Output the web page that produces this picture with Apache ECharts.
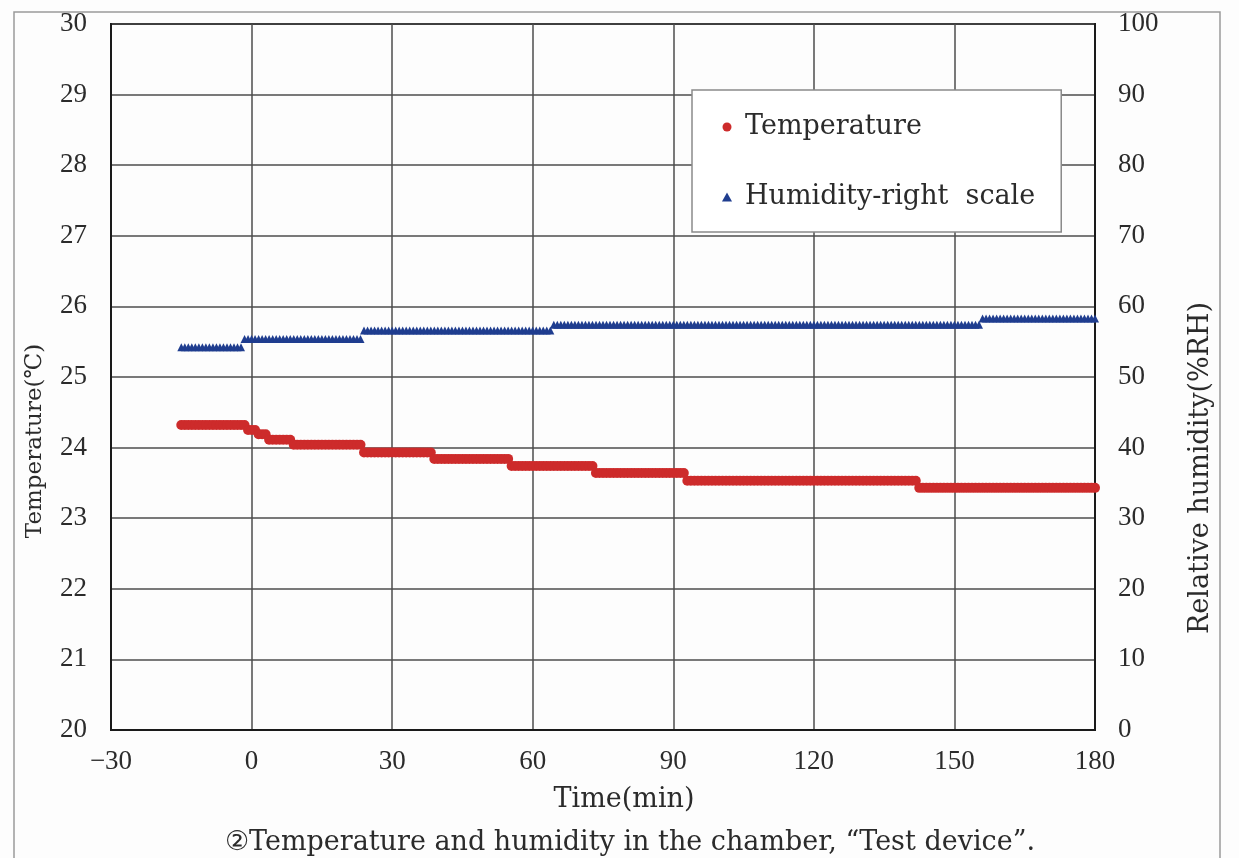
<!DOCTYPE html>
<html>
<head>
<meta charset="utf-8">
<script src="https://cdn.jsdelivr.net/npm/echarts@6/dist/echarts.min.js"></script>
<style>
html,body{margin:0;padding:0;background:#fdfdfd;}
#chart{width:1239px;height:858px;}
</style>
</head>
<body>
<div id="chart"></div>
<script>
// ---- data ----
const xTicks = [-30, 0, 30, 60, 90, 120, 150, 180];
const sampleStart = -15, sampleEnd = 180, sampleStep = 0.75; // logging window (min), 45-s logging
// Temperature: time (min) at which each reading level starts, and the level (°C)
const tempRunStart = [-15, -1, 1.5, 3.5, 8.5, 23.5, 38.5, 55.5, 73.5, 93, 142.5];
const tempRunValue = [24.32, 24.25, 24.19, 24.11, 24.04, 23.93, 23.84, 23.74, 23.64, 23.53, 23.43];
// Humidity (%RH, right scale)
const humRunStart = [-15, -2, 24, 64, 156];
const humRunValue = [54.2, 55.4, 56.6, 57.4, 58.3];

function expandRuns(starts, values) {
  const out = [];
  const n = Math.round((sampleEnd - sampleStart) / sampleStep);
  for (let k = 0; k <= n; k++) {
    const t = sampleStart + k * sampleStep;
    let v = values[0];
    for (let i = 0; i < starts.length; i++) if (t >= starts[i]) v = values[i];
    out.push([t, v]);
  }
  return out;
}
const tempData = expandRuns(tempRunStart, tempRunValue);
const humData = expandRuns(humRunStart, humRunValue);

const serif = 'DejaVu Serif';
const numFont = 'Liberation Serif';
const txt = '#2b2b2b';

const chart = echarts.init(document.getElementById('chart'), null, {renderer: 'canvas'});
chart.setOption({
  animation: false,
  backgroundColor: '#fdfdfd',
  grid: {
    left: 111, right: 144, top: 24, bottom: 128,
    show: true, borderColor: '#1a1a1a', borderWidth: 2,
    containLabel: false, outerBoundsMode: 'none'
  },
  title: {
    text: '②Temperature and humidity in the chamber, “Test device”.',
    left: 220, top: 824,
    textStyle: {fontFamily: serif, fontSize: 27, fontWeight: 'normal', color: txt}
  },
  legend: {
    orient: 'vertical', left: 692, top: 90,
    padding: [22, 26, 20, 30],
    itemGap: 40, itemWidth: 10, itemHeight: 9,
    backgroundColor: '#ffffff', borderColor: '#8a8a8a', borderWidth: 1.5, borderRadius: 0,
    textStyle: {fontFamily: serif, fontSize: 27, color: txt, lineHeight: 30, padding: [0, 0, 0, 8]},
    data: ['Temperature', 'Humidity-right  scale']
  },
  xAxis: {
    type: 'value', min: -30, max: 180, interval: 30,
    name: 'Time(min)', nameLocation: 'middle', nameGap: 56,
    nameTextStyle: {fontFamily: serif, fontSize: 27, color: txt, padding: [0, 0, 0, 42]},
    axisLine: {show: true, onZero: false, lineStyle: {color: '#1a1a1a', width: 2}},
    axisTick: {show: false},
    axisLabel: {
      margin: 18, fontFamily: numFont, fontSize: 27, color: txt,
      formatter: v => xTicks.includes(v) ? String(v).replace('-', '−') : ''
    },
    splitLine: {show: true, lineStyle: {color: '#4d4d4d', width: 1.5}}
  },
  yAxis: [
    {
      type: 'value', min: 20, max: 30, interval: 1, position: 'left',
      name: 'Temperature(℃)', nameLocation: 'middle', nameGap: 64,
      nameTextStyle: {fontFamily: serif, fontSize: 23, color: txt, padding: [0, 128, 0, 0]},
      axisLine: {show: true, onZero: false, lineStyle: {color: '#1a1a1a', width: 2}},
      axisTick: {show: false},
      axisLabel: {margin: 24, fontFamily: numFont, fontSize: 27, color: txt},
      splitLine: {show: true, lineStyle: {color: '#4d4d4d', width: 1.5}}
    },
    {
      type: 'value', min: 0, max: 100, interval: 10, position: 'right',
      name: 'Relative humidity(%RH)', nameLocation: 'middle', nameGap: 92,
      nameTextStyle: {fontFamily: serif, fontSize: 27, color: txt, padding: [0, 182, 0, 0]},
      axisLine: {show: true, onZero: false, lineStyle: {color: '#1a1a1a', width: 2}},
      axisTick: {show: false},
      axisLabel: {margin: 23, fontFamily: numFont, fontSize: 27, color: txt},
      splitLine: {show: false}
    }
  ],
  series: [
    {
      name: 'Temperature', type: 'scatter', yAxisIndex: 0,
      symbol: 'circle', symbolSize: 10, clip: false,
      itemStyle: {color: '#cd2b2b', opacity: 1},
      data: tempData
    },
    {
      name: 'Humidity-right  scale', type: 'scatter', yAxisIndex: 1,
      symbol: 'triangle', symbolSize: 8, clip: false,
      itemStyle: {color: '#1f3d8f', opacity: 1},
      data: humData
    }
  ],
  graphic: [
    {type: 'rect', silent: true, z: -10,
     shape: {x: 14, y: 12, width: 1206, height: 860},
     style: {fill: null, stroke: '#9a9a9a', lineWidth: 1.5}}
  ]
});
</script>
</body>
</html>
